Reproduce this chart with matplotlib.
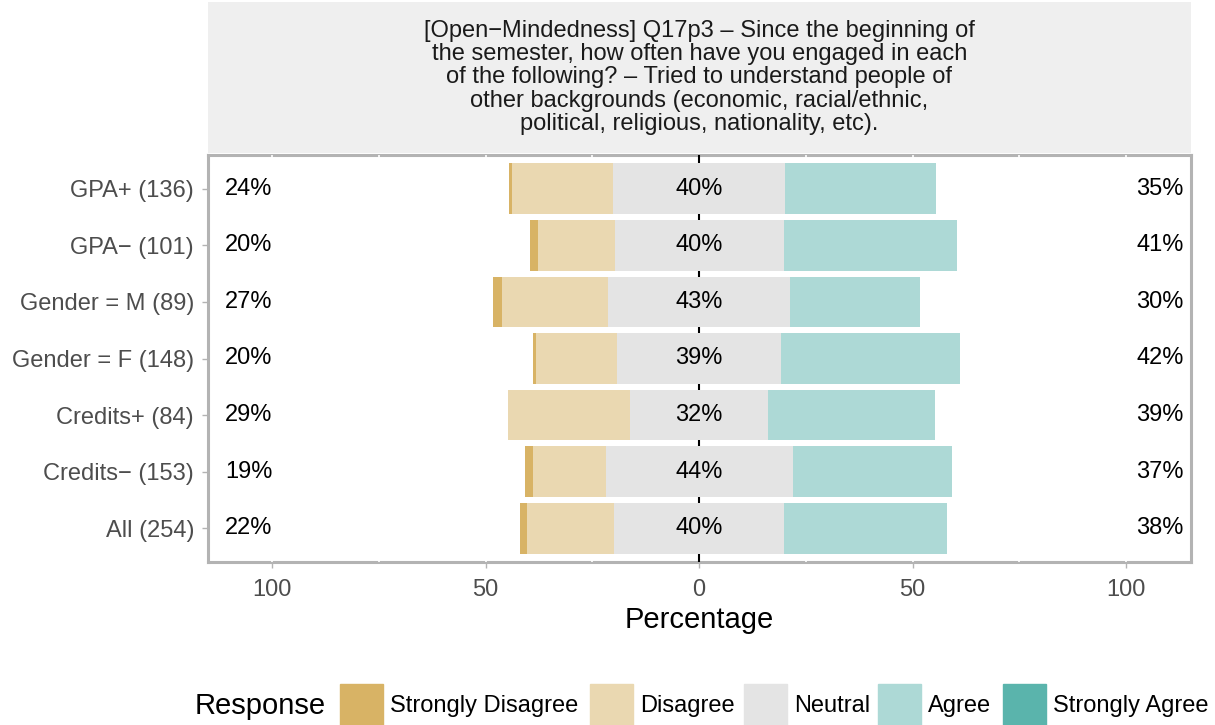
#!/usr/bin/env python3
"""Diverging likert bar chart: Open-Mindedness Q17p3."""

import matplotlib
matplotlib.use('Agg')
import matplotlib.pyplot as plt
from matplotlib.patches import Rectangle
import numpy as np

plt.rcParams['font.family'] = ['Liberation Sans', 'DejaVu Sans']

# data (percent of respondents), top row first
groups = ['GPA+ (136)', 'GPA\u2212 (101)', 'Gender = M (89)', 'Gender = F (148)',
          'Credits+ (84)', 'Credits\u2212 (153)', 'All (254)']
strongly_disagree = [0.74, 1.98, 2.25, 0.68, 0.0, 1.96, 1.57]
disagree = [23.53, 17.82, 24.72, 18.92, 28.57, 16.99, 20.47]
neutral = [40.44, 39.60, 42.70, 38.51, 32.14, 43.79, 39.76]
agree = [35.29, 40.59, 30.34, 41.89, 39.29, 37.25, 38.19]
strongly_agree = [0.0, 0.0, 0.0, 0.0, 0.0, 0.0, 0.0]

responses = ['Strongly Disagree', 'Disagree', 'Neutral', 'Agree', 'Strongly Agree']
colors = ['#D8B365', '#EAD8B1', '#E4E4E4', '#ADD9D6', '#5AB4AC']

title = ("[Open\u2212Mindedness] Q17p3 \u2013 Since the beginning of\n"
         "the semester, how often have you engaged in each\n"
         "of the following? \u2013 Tried to understand people of\n"
         "other backgrounds (economic, racial/ethnic,\n"
         "political, religious, nationality, etc).")

sd = np.array(strongly_disagree)
d = np.array(disagree)
n = np.array(neutral)
a = np.array(agree)
sa = np.array(strongly_agree)
y = np.arange(len(groups))[::-1] + 1

fig = plt.figure(figsize=(12.15, 7.25), dpi=100)
ax = fig.add_axes([208/1215, 1 - 562/725, (1191-208)/1215, (562-155)/725])
strip = fig.add_axes([208/1215, 1 - 153/725, (1191-208)/1215, 151/725])

h = 0.9
ax.barh(y, d, left=-n/2 - d, height=h, color=colors[1], zorder=2)
ax.barh(y, sd, left=-n/2 - d - sd, height=h, color=colors[0], zorder=2)
ax.barh(y, n, left=-n/2, height=h, color=colors[2], zorder=2)
ax.barh(y, a, left=n/2, height=h, color=colors[3], zorder=2)
ax.barh(y, sa, left=n/2 + a, height=h, color=colors[4], zorder=2)

# grid notches in the border, zero line
for gx in [-100, -75, -50, -25, 25, 50, 75, 100]:
    ax.axvline(gx, color='white', lw=1.2, zorder=1.5)
ax.axvline(0, color='black', lw=1.5, zorder=1.6)

fs = 17
for yi, lo, mid, hi in zip(y, sd + d, n, a + sa):
    ax.text(-105.5, yi, f'{lo:.0f}%', ha='center', va='center', fontsize=fs, zorder=3)
    ax.text(0, yi, f'{mid:.0f}%', ha='center', va='center', fontsize=fs, zorder=3)
    ax.text(108, yi, f'{hi:.0f}%', ha='center', va='center', fontsize=fs, zorder=3)

ax.set_xlim(-115, 115.2)
ax.set_ylim(0.4, 7.6)
ax.set_xticks([-100, -50, 0, 50, 100])
ax.set_xticklabels(['100', '50', '0', '50', '100'])
ax.set_yticks(y)
ax.set_yticklabels(groups)
ax.tick_params(axis='both', colors='#B3B3B3', labelcolor='#4D4D4D',
               labelsize=fs, length=4, width=1)
ax.tick_params(axis='x', pad=8)
ax.tick_params(axis='y', pad=6)
ax.set_xlabel('Percentage', fontsize=21, labelpad=4)
for s in ax.spines.values():
    s.set_color('#B3B3B3')
    s.set_linewidth(2.2)
    s.set_zorder(1)

strip.set_facecolor('#EFEFEF')
strip.set_xticks([])
strip.set_yticks([])
for s in strip.spines.values():
    s.set_visible(False)
strip.text(0.5, 0.5, title, ha='center', va='center', fontsize=fs,
           color='#1A1A1A', linespacing=1.08, transform=strip.transAxes)

# legend
fig.text(195/1215, 1 - 706/725, 'Response', fontsize=21, ha='left', va='center')
key_x = [340, 590, 744, 878, 1003]
for kx, lab, c in zip(key_x, responses, colors):
    fig.patches.append(Rectangle((kx/1215, 1 - 726/725), 43/1215, 42/725,
                                 transform=fig.transFigure, color=c))
    fig.text((kx + 50)/1215, 1 - 706/725, lab, fontsize=fs, ha='left', va='center')

fig.savefig('out.png', dpi=100, facecolor='white')
